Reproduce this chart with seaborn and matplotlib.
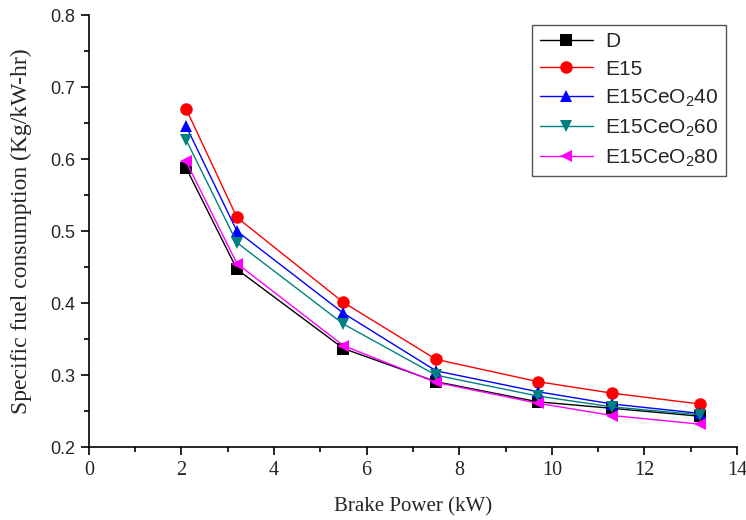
import matplotlib
matplotlib.use("Agg")
import matplotlib.pyplot as plt
import seaborn as sns
import pandas as pd
from matplotlib.ticker import MultipleLocator

sns.set_style("ticks")
plt.rcParams['font.family'] = ['Liberation Sans', 'DejaVu Sans']
plt.rcParams['mathtext.fontset'] = 'custom'
plt.rcParams['mathtext.rm'] = 'Liberation Sans'
plt.rcParams['mathtext.it'] = 'Liberation Sans'

brake_power = [2.1, 3.2, 5.5, 7.5, 9.7, 11.3, 13.2]
sfc_D = [0.588, 0.447, 0.337, 0.291, 0.263, 0.254, 0.243]
sfc_E15 = [0.670, 0.519, 0.401, 0.322, 0.291, 0.275, 0.260]
sfc_E15CeO2_40 = [0.646, 0.500, 0.386, 0.306, 0.277, 0.260, 0.247]
sfc_E15CeO2_60 = [0.627, 0.484, 0.371, 0.300, 0.271, 0.256, 0.245]
sfc_E15CeO2_80 = [0.597, 0.455, 0.341, 0.290, 0.261, 0.244, 0.232]

labels = ["D", "E15", "E15CeO$_2$40", "E15CeO$_2$60", "E15CeO$_2$80"]
series = [sfc_D, sfc_E15, sfc_E15CeO2_40, sfc_E15CeO2_60, sfc_E15CeO2_80]
colors = ["black", "red", "blue", "#008080", "magenta"]
markers = ["s", "o", "^", "v", "<"]
x_ticks = [0, 2, 4, 6, 8, 10, 12, 14]

fig = plt.figure(figsize=(7.46, 5.2), dpi=100)
ax = fig.add_axes([0.119, 0.140, 0.869, 0.831])

for lab, vals, c, m in zip(labels, series, colors, markers):
    df = pd.DataFrame({"x": brake_power, "y": vals})
    sns.lineplot(data=df, x="x", y="y", ax=ax, color=c, marker=m,
                 markersize=9, markeredgewidth=0, linewidth=1.0, label=lab)

ax.set_xlim(0, 14)
ax.set_ylim(0.2, 0.8)
ax.xaxis.set_minor_locator(MultipleLocator(1))
ax.yaxis.set_major_locator(MultipleLocator(0.1))
ax.yaxis.set_minor_locator(MultipleLocator(0.05))
ax.tick_params(which='major', direction='out', length=6, width=1.2, color='black', pad=4)
ax.tick_params(which='minor', direction='out', length=3.5, width=1.2, color='black')
ax.tick_params(axis='y', labelsize=13)
ax.set_xticks(x_ticks)
ax.set_xticklabels([str(t) for t in x_ticks], fontfamily='Liberation Serif', fontsize=14.5)

ax.set_xlabel("Brake Power (kW)", fontfamily='Liberation Serif', fontsize=15)
ax.set_ylabel("Specific fuel consumption (Kg/kW-hr)", fontfamily='Liberation Serif', fontsize=17)
ax.xaxis.set_label_coords(0.5, -0.116)
ax.yaxis.set_label_coords(-0.088, 0.5)

for s in ["top", "right"]:
    ax.spines[s].set_visible(False)
for s in ["left", "bottom"]:
    ax.spines[s].set_linewidth(1.2)
    ax.spines[s].set_color('black')

leg = ax.legend(loc='upper right', bbox_to_anchor=(0.983, 0.978), fontsize=15,
                frameon=True, fancybox=False, edgecolor='#555555', framealpha=1,
                handlelength=2.55, handletextpad=0.6, labelspacing=0.42,
                borderpad=0.35, borderaxespad=0)
leg.get_frame().set_linewidth(1.0)

fig.savefig("out.png", dpi=100)
